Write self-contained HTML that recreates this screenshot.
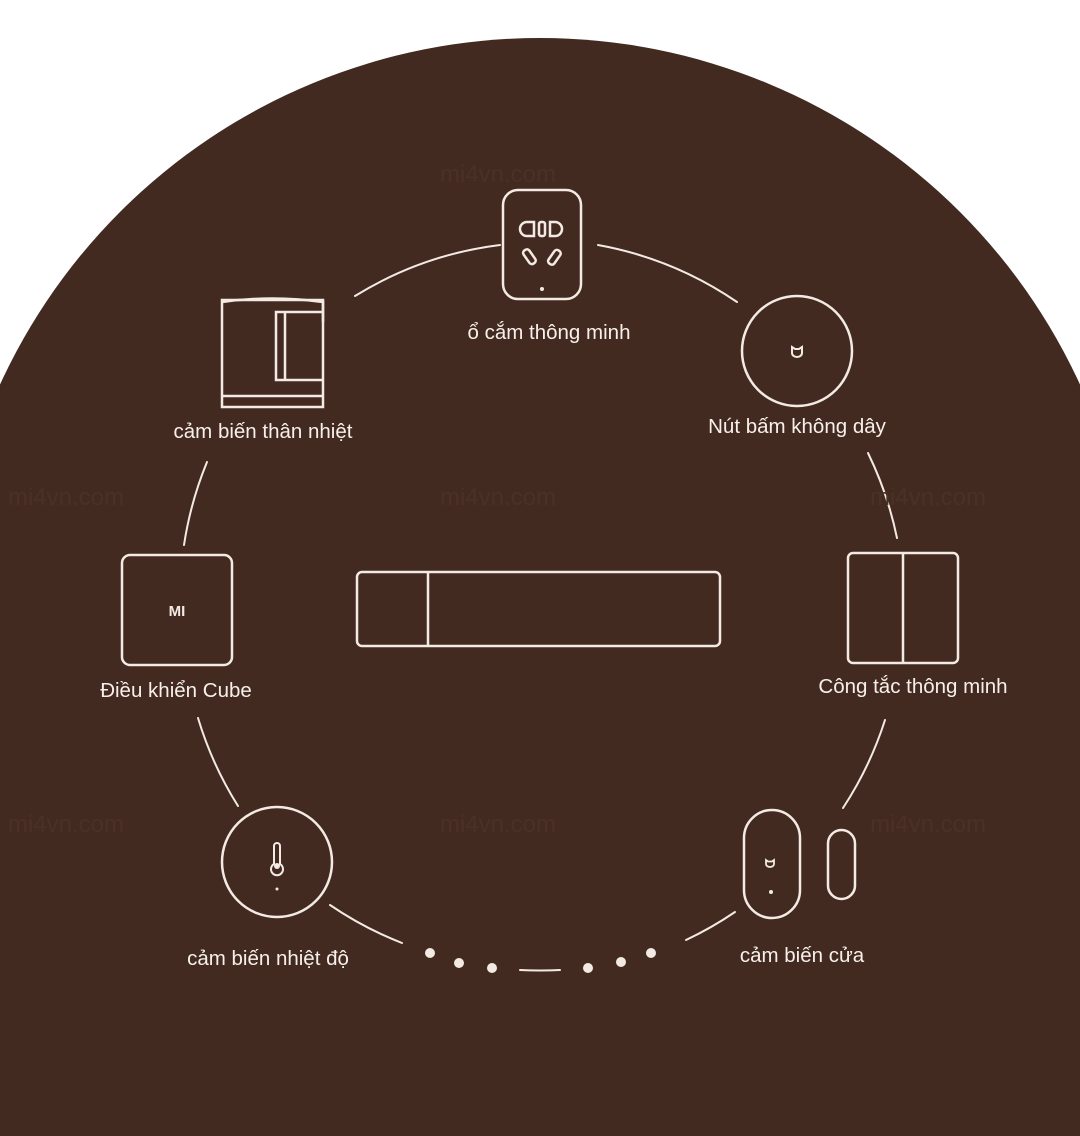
<!DOCTYPE html>
<html><head><meta charset="utf-8"><style>
html,body{margin:0;padding:0;background:#fff;}
body{width:1080px;height:1136px;overflow:hidden;position:relative;font-family:"Liberation Sans",sans-serif;}
svg{position:absolute;left:0;top:0;display:block;}
</style></head><body>
<svg width="1080" height="1136" viewBox="0 0 1080 1136">
<circle cx="540" cy="632" r="594" fill="#432a20"/>
<rect x="0" y="620" width="1080" height="516" fill="#432a20"/>
<g fill="none" stroke="#f3ebe3" stroke-width="2" stroke-linecap="round">
<path d="M355 296 A360 360 0 0 1 500 245"/>
<path d="M598 245 A360 360 0 0 1 737 302"/>
<path d="M868 453 A360 360 0 0 1 897 538"/>
<path d="M885 720 A360 360 0 0 1 843 808"/>
<path d="M735 912 A360 360 0 0 1 686 940"/>
<path d="M560 970 A360 360 0 0 1 520 970"/>
<path d="M402 943 A360 360 0 0 1 330 905"/>
<path d="M238 806 A360 360 0 0 1 198 718"/>
<path d="M184 545 A360 360 0 0 1 207 462"/>
</g>
<g fill="#f3ebe3">
<circle cx="430" cy="953" r="5"/><circle cx="459" cy="963" r="5"/><circle cx="492" cy="968" r="5"/>
<circle cx="588" cy="968" r="5"/><circle cx="621" cy="962" r="5"/><circle cx="651" cy="953" r="5"/>
</g>
<g fill="none" stroke="#f3ebe3" stroke-width="2.5">
<rect x="503" y="190" width="78" height="109" rx="15"/>
<path d="M527 222 h7 v14 h-7 a7 7 0 0 1 0 -14z"/>
<rect x="539" y="222" width="6" height="14" rx="2"/>
<path d="M550 222 h5 a7 7 0 0 1 0 14 h-5z"/>
<rect x="526" y="249" width="7" height="16" rx="3" transform="rotate(-35 529 257)"/>
<rect x="551" y="249" width="7" height="16" rx="3" transform="rotate(35 554 257)"/>
<circle cx="797" cy="351" r="55"/>
<path d="M792 347 v6 a5 4 0 0 0 10 0 v-6 l-3 2 h-4z" stroke-width="2"/>
<rect x="848" y="553" width="110" height="110" rx="5"/>
<line x1="903" y1="553" x2="903" y2="663"/>
<rect x="357" y="572" width="363" height="74" rx="5"/>
<line x1="428" y1="572" x2="428" y2="646"/>
<rect x="122" y="555" width="110" height="110" rx="8"/>
<path d="M222 302 Q272 295 323 302 v20"/>
<rect x="222" y="300" width="101" height="107"/>
<path d="M323 312 h-47 v68 h47"/>
<path d="M285 312 v68"/>
<line x1="222" y1="396" x2="323" y2="396"/>
<circle cx="277" cy="862" r="55"/>
<path d="M274 864 v-18 a3 3 0 0 1 6 0 v18 a6 6 0 1 1 -6 0z" stroke-width="2"/>
<rect x="744" y="810" width="56" height="108" rx="28"/>
<rect x="828" y="830" width="27" height="69" rx="13.5"/>
<path d="M766 860 v4 a4 3 0 0 0 8 0 v-4 l-2 1.5 h-4z" stroke-width="1.8"/>
</g>
<g fill="#f3ebe3">
<circle cx="542" cy="289" r="2"/>
<circle cx="277" cy="889" r="1.5"/>
<circle cx="277" cy="866" r="3"/>
<circle cx="771" cy="892" r="2"/>
</g>
<text x="177" y="616" font-size="15" font-weight="bold" fill="#f3ebe3" text-anchor="middle" font-family="Liberation Sans">MI</text>
<g font-size="20.5" fill="#f7f0ea" text-anchor="middle" font-family="Liberation Sans">
<text x="549" y="339">ổ cắm thông minh</text>
<text x="797" y="433">Nút bấm không dây</text>
<text x="263" y="438">cảm biến thân nhiệt</text>
<text x="176" y="697">Điều khiển Cube</text>
<text x="913" y="693">Công tắc thông minh</text>
<text x="268" y="965">cảm biến nhiệt độ</text>
<text x="802" y="962">cảm biến cửa</text>
</g>
<g font-size="24" fill="#4a3127" text-anchor="middle" font-family="Liberation Sans">
<text x="498" y="182">mi4vn.com</text>
<text x="498" y="505">mi4vn.com</text>
<text x="498" y="832">mi4vn.com</text>
<text x="928" y="505">mi4vn.com</text>
<text x="928" y="832">mi4vn.com</text>
<text x="66" y="505">mi4vn.com</text>
<text x="66" y="832">mi4vn.com</text>
</g>
</svg>
</body></html>
